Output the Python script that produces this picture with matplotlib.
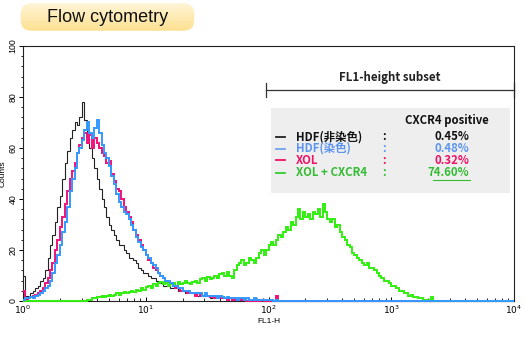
import numpy as np
import matplotlib
matplotlib.use("Agg")
import matplotlib.pyplot as plt
from matplotlib.patches import FancyBboxPatch, Rectangle
from matplotlib.colors import LinearSegmentedColormap
from matplotlib.ticker import MultipleLocator, NullFormatter

W, H = 525, 338

# histogram bins: 200 bins, 0.02 decade wide, over 10^0 .. 10^4
bin_edges = 10 ** np.linspace(0, 4, 201)

# counts per bin (trailing bins are empty)
hdf_unstained = [10, 2, 2, 3, 4, 5, 6, 8, 9, 12,
                 17, 22, 26, 31, 37, 41, 48, 54, 59, 64,
                 67, 70, 69, 72, 78, 71, 64, 60, 56, 52,
                 48, 44, 40, 37, 33, 30, 28, 26, 24, 22,
                 22, 20, 19, 17, 17, 16, 15, 13, 12, 11,
                 11, 10, 9, 9, 8, 7, 7, 6, 6, 6,
                 5, 5, 5, 4, 4, 4, 3, 4, 3, 3,
                 3, 2, 3, 2, 2, 2, 1, 2, 2, 1,
                 1, 2, 1, 1, 1, 0.5, 1, 1, 0.5, 1,
                 0.5, 1, 0.5, 0.5, 1, 0.5, 0, 0.5]
hdf_stained = [0.5, 1, 1, 1.5, 1, 2, 2.5, 3, 4, 5,
               6, 8, 11, 15, 18, 22, 27, 31, 37, 43,
               48, 52, 58, 60, 63, 67, 70, 66, 64, 68,
               71, 66, 61, 58, 56, 53, 49, 46, 42, 39,
               37, 35, 34, 32, 30, 28, 25, 23, 21, 20,
               18, 17, 15, 14, 13, 11, 10, 9, 8, 8,
               7, 6, 6, 5, 5, 4, 4, 4, 3, 3,
               3, 3, 3, 2, 3, 2, 2, 2, 2, 1,
               2, 1.5, 1, 1.5, 1, 1, 1, 0.5, 1, 1,
               0.5, 1, 0.5, 0.5, 1, 0.5, 0.5, 0.5, 0.5, 0.5,
               0.5, 0.5, 0, 0.5]
xol = [4, 0.5, 1, 1.5, 2, 2.5, 3, 4, 5, 7,
       9, 12, 15, 20, 24, 29, 33, 38, 43, 48,
       51, 54, 58, 61, 64, 66, 62, 65, 60, 64,
       62, 60, 58, 57, 54, 55, 50, 47, 44, 43,
       40, 37, 35, 33, 31, 28, 26, 24, 22, 20,
       18, 16, 15, 13, 12, 11, 10, 9, 8, 7,
       7, 6, 5, 5, 4, 4, 4, 3, 3, 3,
       2, 3, 2, 2, 2, 2, 1.5, 2, 1, 1.5,
       1, 1, 1, 0.5, 1, 0.5, 0.5, 0.5, 0.5, 0.5,
       0.5, 0, 0.5, 0, 0.5, 0, 0, 0.5, 0, 0,
       0, 0, 0, 2]
xol_cxcr4 = [0, 0, 0, 0, 0, 0, 0, 0, 0, 0,
             0, 0, 0, 0, 0, 0, 0, 0, 0, 0,
             0, 0, 0, 0, 0, 0, 0.5, 0.5, 1, 1,
             1.5, 1.5, 2, 1.5, 2, 2.5, 2, 2.5, 3, 2.5,
             3, 3.5, 3, 3.5, 4, 3.5, 4.5, 4, 5, 4.5,
             5.5, 6, 5, 6.5, 6, 7, 7.5, 6.5, 7, 6,
             6.5, 7, 6, 7.5, 6.5, 7, 8, 7, 6.5, 7.5,
             8, 7, 8.5, 9, 8, 9.5, 8.5, 9, 10, 9,
             10.5, 11, 10, 11.5, 10, 9, 12, 14, 15, 16,
             14, 15, 17, 16, 15, 17, 19, 20, 18, 20,
             22, 23, 22, 24, 26, 25, 27, 29, 28, 31,
             30, 33, 36, 32, 35, 33, 34, 32, 35, 34,
             36, 33, 38, 35, 32, 31, 32, 29, 30, 27,
             25, 24, 22, 21, 19, 18, 17, 16, 15, 14,
             15, 13, 13, 12, 11, 10, 9, 8, 8, 7,
             6, 6, 5, 4, 4, 3, 3, 2, 2.5, 1.5,
             1.5, 1, 1, 0.5, 0.5, 0.5, 1.5]

series_labels = ["HDF(非染色)", "HDF(染色)", "XOL", "XOL + CXCR4"]
positive_pct = ["0.45%", "0.48%", "0.32%", "74.60%"]
line_colors = ["#222222", "#3399ff", "#f0127a", "#33ee11"]
text_colors = ["#111111", "#5b95f0", "#ee1166", "#33bb33"]
dash_colors = ["#222222", "#6fa4f0", "#ee1166", "#33cc33"]


def pad(v):
    return list(v) + [0] * (200 - len(v))


def fx(px):
    return px / W


def fy(py):
    return 1 - py / H


fig = plt.figure(figsize=(W / 100, H / 100), dpi=100)
ax = fig.add_axes([fx(23), fy(301), fx(514) - fx(23), fy(46) - fy(301)])

ax.stairs(pad(hdf_unstained), bin_edges, baseline=None, color=line_colors[0], lw=0.8, clip_on=False, zorder=3)
ax.stairs(pad(xol), bin_edges, baseline=None, color=line_colors[2], lw=1.4, clip_on=False, zorder=4)
ax.stairs(pad(xol_cxcr4), bin_edges, baseline=None, color=line_colors[3], lw=1.4, clip_on=False, zorder=4)
ax.stairs(pad(hdf_stained), bin_edges, baseline=None, color=line_colors[1], lw=1.4, clip_on=False, zorder=5)

ax.set_xscale("log")
ax.set_xlim(1, 1e4)
ax.set_ylim(0, 100)

ax.yaxis.set_major_locator(MultipleLocator(20))
ax.yaxis.set_minor_locator(MultipleLocator(4))
ax.tick_params(axis="y", which="major", direction="out", length=3, width=0.7, labelsize=6.3, pad=1)
ax.tick_params(axis="y", which="minor", direction="out", length=1.8, width=0.6)
for t in ax.get_yticklabels():
    t.set_rotation(90)
    t.set_va("center")
    t.set_fontfamily("Liberation Sans")
ax.tick_params(axis="x", which="major", direction="in", length=3, width=0.7, labelsize=6.5, pad=2)
ax.tick_params(axis="x", which="minor", direction="in", length=2, width=0.6)
ax.set_xticks([1, 10, 100, 1000, 10000])
ax.set_xticklabels([r"$10^0$", r"$10^1$", r"$10^2$", r"$10^3$", r"$10^4$"])
ax.xaxis.set_minor_formatter(NullFormatter())
ax.set_xlabel("FL1-H", fontsize=6, family="Liberation Sans", labelpad=1)
ax.set_ylabel("Counts", fontsize=6, family="Liberation Sans", labelpad=1)
for s in ax.spines.values():
    s.set_linewidth(0.8)
    s.set_color("#222222")

# FL1-height subset bracket
bx0, bx1, by = 10 ** ((266 - 23) / 122.75), 1e4, (301 - 90) / 2.55
ax.plot([bx0, bx1], [by, by], color="#333333", lw=0.9, clip_on=False)
for bx in (bx0, bx1):
    ax.plot([bx, bx], [by - 2.6, by + 2.6], color="#333333", lw=0.9, clip_on=False)
jp = ["Noto Sans CJK JP", "DejaVu Sans"]
fig.text(fx(390), fy(78), "FL1-height subset", fontsize=8.3, weight="bold",
         family=jp, ha="center", va="center", color="#222222")

# gated-percentage box
fig.patches.append(Rectangle((fx(271), fy(193)), fx(510) - fx(271), fy(108) - fy(193),
                             transform=fig.transFigure, facecolor="#eeeeee", edgecolor="none", zorder=1))
fs = 8.2
fig.text(fx(447), fy(121), "CXCR4 positive", fontsize=fs, weight="bold", family=jp,
         ha="center", va="center", color="#111111")
row_y = [137, 148.5, 160, 172.5]
for lab, pct, dc, tc, ry in zip(series_labels, positive_pct, dash_colors, text_colors, row_y):
    fig.lines.append(plt.Line2D([fx(276), fx(285)], [fy(ry), fy(ry)], transform=fig.transFigure,
                                color=dc, lw=1.3))
    fig.text(fx(296), fy(ry), lab, fontsize=fs, weight="bold", family=jp, ha="left", va="center", color=tc)
    fig.text(fx(384), fy(ry), ":", fontsize=fs, weight="bold", family=jp, ha="center", va="center", color=tc)
    fig.text(fx(469), fy(ry), pct, fontsize=fs, weight="bold", family=jp, ha="right", va="center", color=tc)
fig.lines.append(plt.Line2D([fx(433), fx(470)], [fy(180), fy(180)], transform=fig.transFigure,
                            color=text_colors[3], lw=0.8))

# title box with yellow gradient
tax = fig.add_axes([fx(17), fy(32), fx(198) - fx(17), fy(2) - fy(32)])
tax.set_axis_off()
tax.set_xlim(0, 1)
tax.set_ylim(0, 1)
grad = np.linspace(0, 1, 64).reshape(-1, 1)
cmap = LinearSegmentedColormap.from_list("ttl", ["#fde08f", "#fff5d8"])
img = tax.imshow(grad, extent=[0, 1, 0, 1], origin="lower", aspect="auto", cmap=cmap)
box = FancyBboxPatch((0.02, 0.04), 0.96, 0.92, boxstyle="round,pad=0,rounding_size=0.06",
                     mutation_aspect=6, transform=tax.transAxes, facecolor="none", edgecolor="none")
tax.add_patch(box)
img.set_clip_path(box)
tax.text(0.5, 0.5, "Flow cytometry", fontsize=13, family="Liberation Sans",
         ha="center", va="center", color="#111111")

fig.savefig("out.png", dpi=100)
